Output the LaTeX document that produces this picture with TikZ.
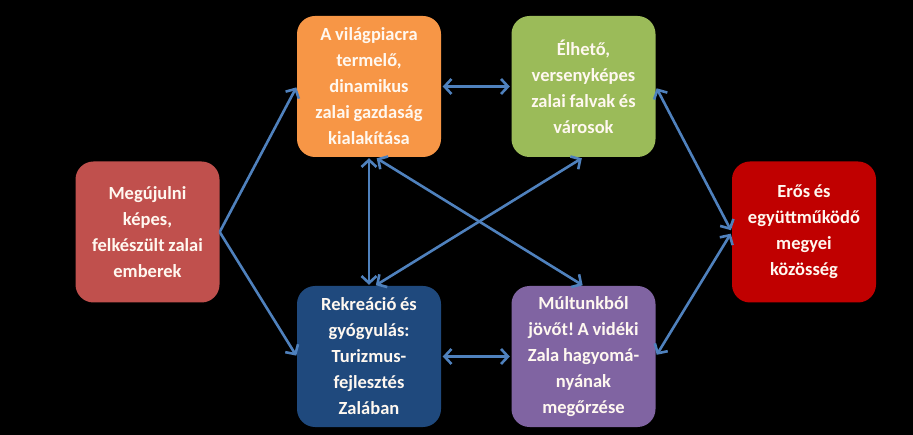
\documentclass[tikz,border=0pt]{standalone}
\usepackage{fontspec}
\setmainfont{Carlito}
\usetikzlibrary{arrows.meta}
\definecolor{cRed}{HTML}{C0504D}
\definecolor{cOrange}{HTML}{F79646}
\definecolor{cGreen}{HTML}{9BBB59}
\definecolor{cDark}{HTML}{C00000}
\definecolor{cBlue}{HTML}{1F497D}
\definecolor{cPurple}{HTML}{8064A2}
\definecolor{cArrow}{HTML}{4F81BD}
\definecolor{cText}{HTML}{FFF8F0}
\newcommand{\tightspace}{\spaceskip=0.2em\relax}
\tikzset{
  box/.style={rounded corners=18pt, minimum width=144pt, minimum height=141pt,
    text width=142pt, align=center, inner sep=0pt,
    font=\frenchspacing\bfseries\fontsize{18.5}{26}\selectfont, text=cText,
    execute at begin node=\tightspace},
  conn/.style={draw=cArrow, line width=2.6pt,
    {Straight Barb[length=7pt,width=15pt]}-{Straight Barb[length=7pt,width=15pt]}},
  oneway/.style={draw=cArrow, line width=2.6pt, -{Straight Barb[length=7pt,width=15pt]}}
}
\begin{document}
\begin{tikzpicture}[x=1pt,y=-1pt]
\fill[black] (0,0) rectangle (913,435);
\useasboundingbox (0,0) rectangle (913,435);
\node[box, fill=cRed] (red) at (147.5,232) {Megújulni\\képes,\\felkészült zalai\\emberek};
\node[box, fill=cOrange] (orange) at (369,86.5) {A világpiacra\\termelő,\\dinamikus\\zalai gazdaság\\kialakítása};
\node[box, fill=cGreen] (green) at (583.5,86.5) {Élhető,\\versenyképes\\zalai falvak és\\városok};
\node[box, fill=cDark] (dark) at (804,232) {Erős és\\együttműködő\\megyei\\közösség};
\node[box, fill=cBlue] (blue) at (369,356.5) {Rekreáció és\\gyógyulás:\\Turizmus-\\fejlesztés\\Zalában};
\node[box, fill=cPurple] (purple) at (583.5,356.5) {Múltunkból\\jövőt! A vidéki\\Zala hagyomá-\\nyának\\megőrzése};
\draw[oneway, shorten >=1pt] (red.east) -- (orange.west);
\draw[oneway, shorten >=1pt] (red.east) -- (blue.west);
\draw[conn, shorten >=1.5pt, shorten <=1.5pt] (orange.east) -- (green.west);
\draw[conn, shorten >=1.5pt, shorten <=1.5pt] (blue.east) -- (purple.west);
\draw[conn, shorten >=1pt, shorten <=1pt] (orange.south) -- (blue.north);
\draw[conn, shorten >=1pt, shorten <=2pt] ([xshift=6pt]orange.south) -- (purple.north);
\draw[conn, shorten >=1pt, shorten <=2pt] (green.south) -- ([xshift=6pt]blue.north);
\draw[conn, shorten >=2pt, shorten <=2pt] (green.east) -- (dark.west);
\draw[conn, shorten >=2pt, shorten <=2pt] (purple.east) -- (dark.west);
\end{tikzpicture}
\end{document}
